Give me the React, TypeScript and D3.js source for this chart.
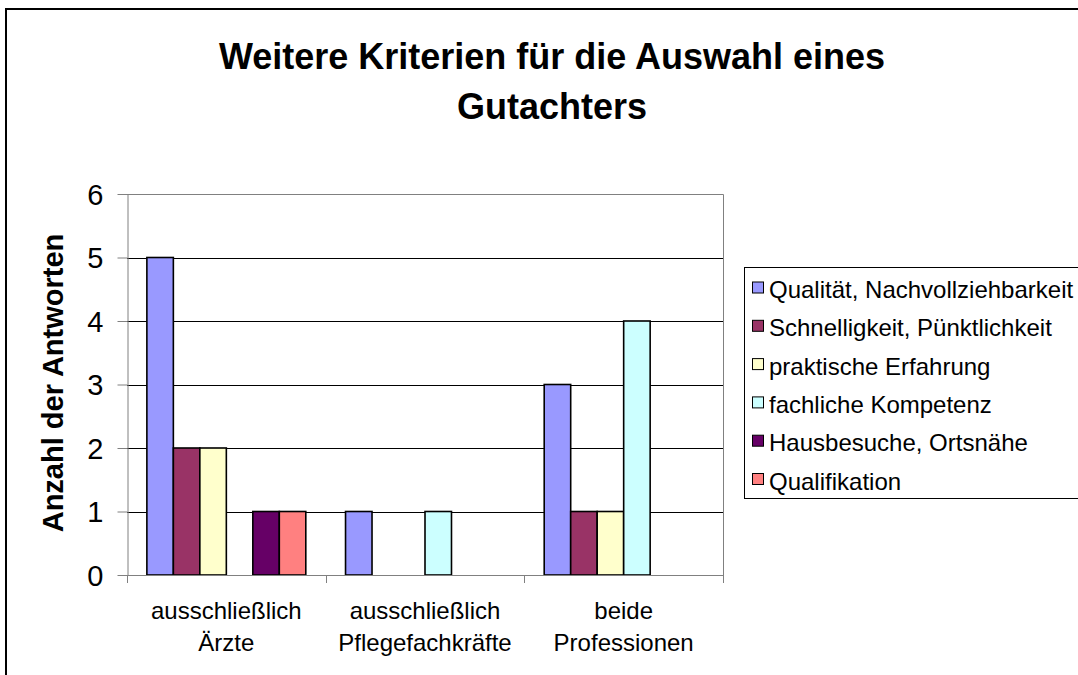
import * as d3 from "d3";
import React, { useRef, useEffect } from "react";

// categories (two lines each, like the original axis labels)
const categories = ["Ärzte", "Pflegefachkräfte", "Professionen"];
const categoryLines = [
  ["ausschließlich", "Ärzte"],
  ["ausschließlich", "Pflegefachkräfte"],
  ["beide", "Professionen"],
];

const seriesNames = [
  "Qualität, Nachvollziehbarkeit",
  "Schnelligkeit, Pünktlichkeit",
  "praktische Erfahrung",
  "fachliche Kompetenz",
  "Hausbesuche, Ortsnähe",
  "Qualifikation",
];
const seriesColors = ["#9999FF", "#993366", "#FFFFCC", "#CCFFFF", "#660066", "#FF8080"];

// values per series, in category order
const qualitaet = [5, 1, 3];
const schnelligkeit = [2, 0, 1];
const praktisch = [2, 0, 1];
const kompetenz = [0, 1, 4];
const hausbesuche = [1, 0, 0];
const qualifikation = [1, 0, 0];
const seriesValues = [qualitaet, schnelligkeit, praktisch, kompetenz, hausbesuche, qualifikation];

const yTicks = [0, 1, 2, 3, 4, 5, 6];

const FONT = "'Liberation Sans', Arial, sans-serif";

const Chart: React.FC = () => {
  const svgRef = useRef<SVGSVGElement>(null);

  useEffect(() => {
    if (!svgRef.current) return;
    const svg = d3.select(svgRef.current);
    svg.selectAll("*").remove();

    const left = 127, right = 723, top = 194, bottom = 575;

    const x0 = d3.scaleBand<string>().domain(categories).range([left, right]).padding(0);
    const x1 = d3
      .scaleBand<number>()
      .domain(d3.range(seriesNames.length))
      .range([0, x0.bandwidth()])
      .paddingInner(0)
      .paddingOuter(0.75);
    const y = d3.scaleLinear().domain([0, 6]).range([bottom, top]);

    // outer chart border (right/bottom run off the picture)
    svg
      .append("rect")
      .attr("x", 6)
      .attr("y", 9)
      .attr("width", 1100)
      .attr("height", 700)
      .attr("fill", "#fff")
      .attr("stroke", "#000")
      .attr("stroke-width", 2);

    // title
    const title = svg
      .append("text")
      .attr("text-anchor", "middle")
      .attr("font-family", FONT)
      .attr("font-weight", "bold")
      .attr("font-size", 36)
      .attr("fill", "#000");
    title.append("tspan").attr("x", 552).attr("y", 69).text("Weitere Kriterien für die Auswahl eines");
    title.append("tspan").attr("x", 552).attr("y", 119).text("Gutachters");

    // grid lines
    svg
      .append("g")
      .selectAll("line")
      .data(yTicks.filter((t) => t > 0 && t < 6))
      .join("line")
      .attr("x1", left)
      .attr("x2", right)
      .attr("y1", (d) => Math.round(y(d)) + 0.5)
      .attr("y2", (d) => Math.round(y(d)) + 0.5)
      .attr("stroke", "#000");

    // plot border top + right
    svg
      .append("path")
      .attr("d", `M${left},${Math.round(top) + 0.5}H${right + 0.5}V${bottom}`)
      .attr("fill", "none")
      .attr("stroke", "#808080");

    // bars
    svg
      .append("g")
      .selectAll("g")
      .data(seriesValues)
      .join("g")
      .attr("fill", (_, i) => seriesColors[i])
      .each(function (vals, si) {
        d3.select(this)
          .selectAll("rect")
          .data(vals.map((v, ci) => ({ v, c: categories[ci] })).filter((d) => d.v > 0))
          .join("rect")
          .attr("x", (d) => (x0(d.c) as number) + (x1(si) as number))
          .attr("y", (d) => y(d.v))
          .attr("width", x1.bandwidth())
          .attr("height", (d) => y(0) - y(d.v))
          .attr("stroke", "#000")
          .attr("stroke-width", 1.6);
      });

    // y axis
    const yAxis = svg
      .append("g")
      .attr("transform", `translate(${left + 0.5},0)`)
      .call(
        d3
          .axisLeft(y)
          .tickValues(yTicks)
          .tickFormat(d3.format("d"))
          .tickSize(10)
          .tickSizeOuter(0)
          .tickPadding(14)
      );
    yAxis.select(".domain").attr("stroke", "#808080");
    yAxis.selectAll(".tick line").attr("stroke", "#808080");
    yAxis
      .selectAll("text")
      .attr("font-family", FONT)
      .attr("font-size", 29)
      .attr("fill", "#000")
      .attr("dy", "0.36em");

    // x axis line and boundary ticks
    const bounds = [...categories.map((c) => x0(c) as number), right];
    const xg = svg.append("g");
    xg.append("line")
      .attr("x1", left)
      .attr("x2", right)
      .attr("y1", bottom + 0.5)
      .attr("y2", bottom + 0.5)
      .attr("stroke", "#808080");
    xg.selectAll(".bt")
      .data(bounds)
      .join("line")
      .attr("class", "bt")
      .attr("x1", (d) => Math.round(d) + 0.5)
      .attr("x2", (d) => Math.round(d) + 0.5)
      .attr("y1", bottom)
      .attr("y2", bottom + 8)
      .attr("stroke", "#808080");
    xg.selectAll(".lbl")
      .data(categoryLines)
      .join("text")
      .attr("class", "lbl")
      .attr("text-anchor", "middle")
      .attr("font-family", FONT)
      .attr("font-size", 24)
      .attr("fill", "#000")
      .each(function (lines, i) {
        const cx = (x0(categories[i]) as number) + x0.bandwidth() / 2;
        d3.select(this)
          .selectAll("tspan")
          .data(lines)
          .join("tspan")
          .attr("x", cx)
          .attr("y", (_, k) => 619 + k * 32)
          .text((d) => d);
      });

    // y axis title
    svg
      .append("text")
      .attr("transform", "translate(63,383) rotate(-90)")
      .attr("text-anchor", "middle")
      .attr("font-family", FONT)
      .attr("font-weight", "bold")
      .attr("font-size", 29)
      .attr("fill", "#000")
      .text("Anzahl der Antworten");

    // legend
    const lg = svg.append("g");
    lg.append("rect")
      .attr("x", 744.5)
      .attr("y", 267.5)
      .attr("width", 400)
      .attr("height", 231)
      .attr("fill", "#fff")
      .attr("stroke", "#000");
    const items = lg
      .selectAll(".item")
      .data(seriesNames)
      .join("g")
      .attr("class", "item")
      .attr("transform", (_, i) => `translate(0,${298 + i * 38.3})`);
    items
      .append("rect")
      .attr("x", 752.5)
      .attr("y", -16)
      .attr("width", 11)
      .attr("height", 11)
      .attr("fill", (_, i) => seriesColors[i])
      .attr("stroke", "#000");
    items
      .append("text")
      .attr("x", 769)
      .attr("y", 0)
      .attr("font-family", FONT)
      .attr("font-size", 24)
      .attr("fill", "#000")
      .text((d) => d);
  }, []);

  return (
    <svg
      ref={svgRef}
      width={1078}
      height={675}
      style={{ position: "absolute", left: 0, top: 0, background: "#fff" }}
    ></svg>
  );
};

export default function App() {
  return <Chart />;
}
